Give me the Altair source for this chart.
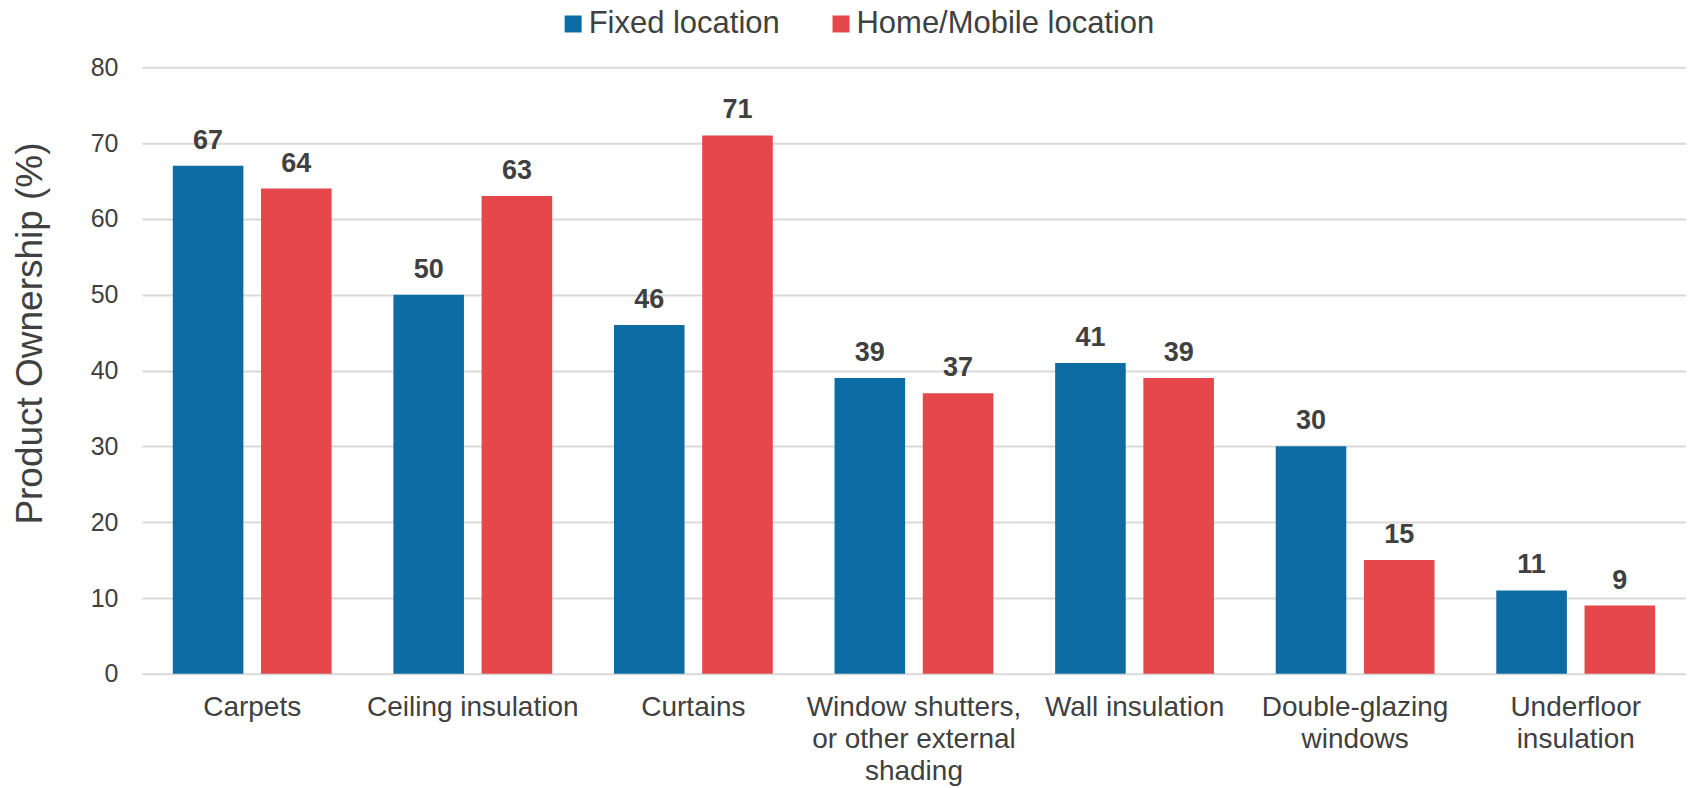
import altair as alt
import pandas as pd

categories = ["Carpets", "Ceiling insulation", "Curtains",
              "Window shutters,\nor other external\nshading", "Wall insulation",
              "Double-glazing\nwindows", "Underfloor\ninsulation"]
series = ["Fixed location", "Home/Mobile location"]
fixed_vals = [67, 50, 46, 39, 41, 30, 11]
home_vals = [64, 63, 71, 37, 39, 15, 9]
colors = ["#0E6CA4", "#E5474A"]
y_ticks = [0, 10, 20, 30, 40, 50, 60, 70, 80]

rows = []
for c, f, h in zip(categories, fixed_vals, home_vals):
    rows.append({"category": c, "series": series[0], "value": f})
    rows.append({"category": c, "series": series[1], "value": h})
df = pd.DataFrame(rows)

FONT = "Liberation Sans"
TXT = "#404040"

x_enc = alt.X("category:N", sort=categories,
              scale=alt.Scale(paddingInner=0.28, paddingOuter=0.14),
              axis=alt.Axis(title=None, labelAngle=0, labelFontSize=28, labelFont=FONT,
                            labelColor=TXT, labelPadding=20, labelLineHeight=32,
                            labelLimit=0,
                            labelExpr="split(datum.label, '\\n')",
                            domain=False, ticks=False, grid=False))
xo_enc = alt.XOffset("series:N", sort=series,
                     scale=alt.Scale(paddingInner=0.2, paddingOuter=0))
y_enc = alt.Y("value:Q", scale=alt.Scale(domain=[0, 80]),
              axis=alt.Axis(values=y_ticks, title="Product Ownership (%)",
                            titleFontSize=37, titleFont=FONT, titleColor=TXT,
                            titleFontWeight="normal", titleAngle=-90,
                            titleX=-111, titleY=266, titleAlign="center",
                            titleBaseline="middle", titleLimit=0,
                            labelFontSize=25, labelFont=FONT, labelColor=TXT,
                            labelPadding=24, domain=False, ticks=False,
                            grid=True, gridColor="#D9D9D9", gridWidth=2))

bars = alt.Chart(df).mark_bar().encode(
    x=x_enc, xOffset=xo_enc, y=y_enc,
    color=alt.Color("series:N", sort=series,
                    scale=alt.Scale(domain=series, range=colors),
                    legend=alt.Legend(title=None, orient="none", legendX=416, legendY=-59,
                                      direction="horizontal", symbolType="square",
                                      symbolSize=289, symbolStrokeWidth=0,
                                      labelFontSize=31, labelFont=FONT, labelColor=TXT,
                                      labelLimit=0,
                                      labelOffset=0, columnPadding=45, padding=0)),
)

labels = alt.Chart(df).mark_text(
    baseline="alphabetic", dy=-17, fontSize=27, fontWeight="bold", font=FONT, color=TXT
).encode(
    x=alt.X("category:N", sort=categories), xOffset=alt.XOffset("series:N", sort=series),
    y="value:Q", text="value:Q",
)

chart = alt.layer(bars, labels).properties(
    width=1545, height=607,
    autosize=alt.AutoSizeParams(type="none"),
    padding={"left": 134, "top": 59, "right": 0, "bottom": 121},
).configure_view(stroke=None)

chart.save("out.html", embed_options={"renderer": "svg", "actions": False})
